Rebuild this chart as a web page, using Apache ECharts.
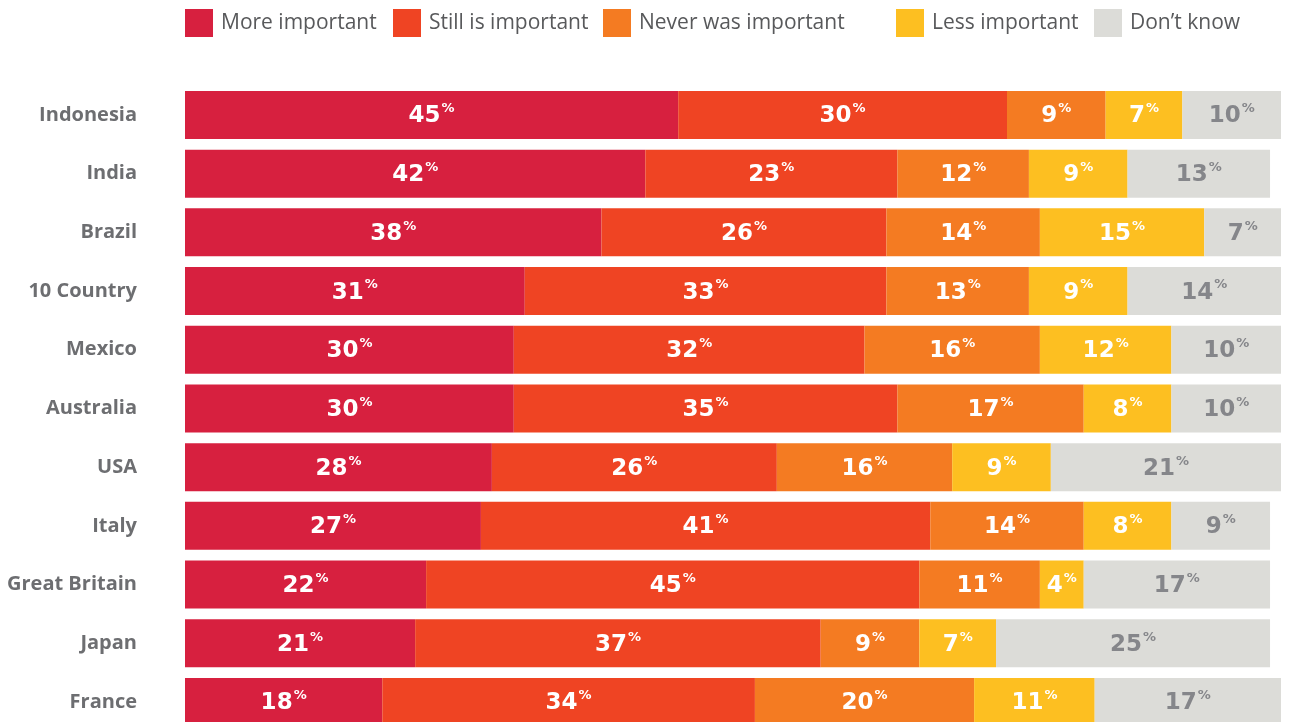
<!DOCTYPE html>
<html>
<head>
<meta charset="utf-8">
<script src="https://cdn.jsdelivr.net/npm/echarts@6/dist/echarts.min.js"></script>
<style>
  html, body { margin: 0; padding: 0; background: #ffffff; }
  #chart { width: 1297px; height: 722px; }
</style>
</head>
<body>
<div id="chart"></div>
<script>
// Survey answers by country, in percent
const countries = ['Indonesia', 'India', 'Brazil', '10 Country', 'Mexico', 'Australia', 'USA', 'Italy', 'Great Britain', 'Japan', 'France'];
const seriesNames = ['More important', 'Still is important', 'Never was important', 'Less important', 'Don\u2019t know'];
const moreImportant     = [45, 42, 38, 31, 30, 30, 28, 27, 22, 21, 18];
const stillImportant    = [30, 23, 26, 33, 32, 35, 26, 41, 45, 37, 34];
const neverImportant    = [9, 12, 14, 13, 16, 17, 16, 14, 11, 9, 20];
const lessImportant     = [7, 9, 15, 9, 12, 8, 9, 8, 4, 7, 11];
const dontKnow          = [10, 13, 7, 14, 10, 10, 21, 9, 17, 25, 17];

const values = [moreImportant, stillImportant, neverImportant, lessImportant, dontKnow];
const colors = ['#D7203F', '#EF4423', '#F47B22', '#FDBF21', '#DCDCD8'];
const labelColors = ['#ffffff', '#ffffff', '#ffffff', '#ffffff', '#85868A'];
// left edge of each legend entry
const legendLefts = [185, 393, 603, 896, 1094];

const chart = echarts.init(document.getElementById('chart'));

const series = seriesNames.map((name, i) => ({
  name: name,
  type: 'bar',
  stack: 'total',
  barWidth: 48,
  data: values[i],
  itemStyle: { color: colors[i] },
  label: {
    show: true,
    position: 'inside',
    formatter: p => '{v|' + p.value + '}{p|%}',
    rich: {
      v: { fontFamily: 'DejaVu Sans', fontWeight: 'bold', fontSize: 23, color: labelColors[i], padding: [3, 0, 0, 0] },
      p: { fontFamily: 'DejaVu Sans', fontWeight: 'bold', fontSize: 13, color: labelColors[i], padding: [0, 0, 12, 1] }
    }
  },
  emphasis: { disabled: true }
}));

const legends = seriesNames.map((name, i) => ({
  top: 9,
  left: legendLefts[i],
  padding: 0,
  itemWidth: 28,
  itemHeight: 28,
  icon: 'rect',
  textStyle: { fontFamily: 'Open Sans', fontSize: 21, color: '#58595B', lineHeight: 21, padding: [7, 0, 0, 3] },
  data: [name]
}));

chart.setOption({
  animation: false,
  legend: legends,
  grid: { left: 185, right: 16, top: 85.6, height: 645.7, containLabel: false, outerBoundsMode: 'none' },
  xAxis: {
    type: 'value',
    min: 0,
    max: 100,
    show: false
  },
  yAxis: {
    type: 'category',
    inverse: true,
    data: countries,
    axisLine: { show: false },
    axisTick: { show: false },
    axisLabel: {
      margin: 48,
      fontFamily: 'Open Sans',
      fontWeight: 'bold',
      fontSize: 20,
      color: '#6D6E71'
    }
  },
  series: series
});
</script>
</body>
</html>
